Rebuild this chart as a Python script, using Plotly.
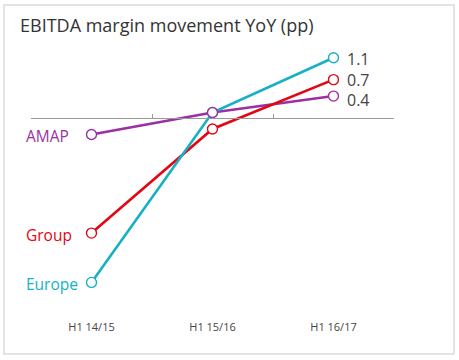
import plotly.graph_objects as go

periods = ["H1 14/15", "H1 15/16", "H1 16/17"]
series_names = ["AMAP", "Group", "Europe"]
amap = [-0.3, 0.1, 0.4]
group = [-2.1, -0.2, 0.7]
europe = [-3.0, 0.1, 1.1]
end_labels = ["0.4", "0.7", "1.1"]

colors = {"AMAP": "#9B2FA3", "Group": "#E30613", "Europe": "#16B1C4"}
values = {"AMAP": amap, "Group": group, "Europe": europe}
end_yshift = {"AMAP": -4, "Group": 0, "Europe": -1}

W, H = 459, 360
L, R, T, B = 31, 65, 40, 44
pw, ph = W - L - R, H - T - B
ymin, ymax = -3.613, 1.4234

fig = go.Figure()

# lines (drawn first)
for name in ["AMAP", "Group", "Europe"]:
    fig.add_trace(go.Scatter(x=periods, y=values[name], mode="lines",
                             line=dict(color=colors[name], width=2.6),
                             hoverinfo="skip", showlegend=False))
# markers on top
for name in ["Europe", "Group", "AMAP"]:
    fig.add_trace(go.Scatter(x=periods, y=values[name], mode="markers",
                             marker=dict(symbol="circle", size=10, color="white",
                                         line=dict(color=colors[name], width=1.4)),
                             name=name, showlegend=False))

# helper invisible trace for zero-line axis
fig.add_trace(go.Scatter(x=periods, y=[0, 0, 0], xaxis="x2", mode="markers",
                         marker=dict(opacity=0), hoverinfo="skip", showlegend=False))

zero_pos = (0 - ymin) / (ymax - ymin)

fig.update_layout(
    width=W, height=H,
    margin=dict(l=L, r=R, t=T, b=B),
    paper_bgcolor="white", plot_bgcolor="white",
    font=dict(family="Open Sans, sans-serif", color="#444"),
    xaxis=dict(type="category", categoryarray=periods, range=[-0.5, 2.5],
               showline=False, showgrid=False, zeroline=False, ticks="",
               ticklabelstandoff=3,
               tickfont=dict(size=11, color="#444")),
    xaxis2=dict(type="category", categoryarray=periods, range=[-0.5, 2.5],
                overlaying="x", anchor="free", position=zero_pos, side="bottom",
                showline=True, linecolor="#9a9a9a", linewidth=1,
                ticks="inside", tickson="boundaries", ticklen=4, tickcolor="#9a9a9a",
                showticklabels=False, showgrid=False, zeroline=False),
    yaxis=dict(range=[ymin, ymax], visible=False, showgrid=False, zeroline=False),
    title=dict(text="EBITDA margin movement YoY (pp)", xref="container", yref="container",
               x=20 / W, xanchor="left", y=1 - 26 / H, yanchor="middle",
               font=dict(size=18, color="#333", family="Open Sans, sans-serif")),
    hovermode="closest",
)

# series names at left
for name in series_names:
    fig.add_annotation(x=(24 - L) / pw, xref="paper", y=values[name][0], yref="y",
                       text=name, showarrow=False, xanchor="left", yanchor="middle",
                       yshift=-2, font=dict(size=15.5, color=colors[name]))

# end value labels
for name, lab in zip(series_names, end_labels):
    fig.add_annotation(x=periods[-1], xref="x", y=values[name][-1], yref="y",
                       text=lab, showarrow=False, xanchor="left", yanchor="middle",
                       xshift=11, yshift=end_yshift[name],
                       font=dict(size=16, color="#444"))

# outer frame
fig.add_shape(type="rect", xref="paper", yref="paper",
              x0=(4 - L) / pw, x1=(454 - L) / pw,
              y0=(H - B - 354) / ph, y1=(H - B - 5) / ph,
              line=dict(color="#dcdcdc", width=1.5), fillcolor="rgba(0,0,0,0)", layer="below")

fig.write_html("out.html", config={"displayModeBar": False},
               post_script="document.body.style.margin='0';")
